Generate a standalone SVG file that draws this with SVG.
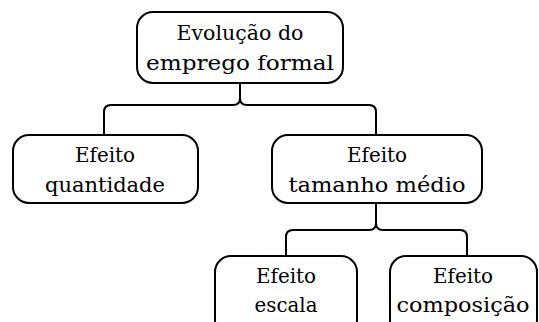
<svg xmlns="http://www.w3.org/2000/svg" width="539" height="322" viewBox="0 0 539 322">
<style>
.box{fill:#fff;stroke:#000;stroke-width:2}
.t{font-family:"DejaVu Serif","Liberation Serif",serif;font-size:21px;fill:#000;text-anchor:middle}
.c{fill:none;stroke:#000;stroke-width:2}
</style>
<rect width="539" height="322" fill="#fff"/>
<g id="connectors">
<path class="c" d="M104,135 V112 Q104,105 111,105 H233 Q240,105 240,98 V83 M240,98 Q240,105 247,105 H369 Q376,105 376,112 V135"/>
<path class="c" d="M286,256 V237 Q286,230 293,230 H369 Q376,230 376,223 V203 M376,223 Q376,230 383,230 H460 Q467,230 467,237 V256"/>
</g>
<g id="n-root">
<rect class="box" x="137" y="12" width="206" height="71" rx="16"/>
<text class="t" x="240" y="40" textLength="127" lengthAdjust="spacingAndGlyphs">Evolução do</text>
<text class="t" x="240" y="70" textLength="188" lengthAdjust="spacingAndGlyphs">emprego formal</text>
</g>
<g id="n-quant">
<rect class="box" x="13" y="135" width="185" height="68" rx="16"/>
<text class="t" x="105" y="162" textLength="60" lengthAdjust="spacingAndGlyphs">Efeito</text>
<text class="t" x="105" y="192" textLength="120" lengthAdjust="spacingAndGlyphs">quantidade</text>
</g>
<g id="n-tam">
<rect class="box" x="272" y="135" width="210" height="68" rx="16"/>
<text class="t" x="377" y="162" textLength="60" lengthAdjust="spacingAndGlyphs">Efeito</text>
<text class="t" x="377" y="192" textLength="177" lengthAdjust="spacingAndGlyphs">tamanho médio</text>
</g>
<g id="n-escala">
<rect class="box" x="215" y="256" width="142" height="80" rx="16"/>
<text class="t" x="286" y="283" textLength="60" lengthAdjust="spacingAndGlyphs">Efeito</text>
<text class="t" x="286" y="312" textLength="63" lengthAdjust="spacingAndGlyphs">escala</text>
</g>
<g id="n-comp">
<rect class="box" x="390" y="256" width="147" height="80" rx="16"/>
<text class="t" x="463" y="283" textLength="60" lengthAdjust="spacingAndGlyphs">Efeito</text>
<text class="t" x="463" y="312" textLength="133" lengthAdjust="spacingAndGlyphs">composição</text>
</g>
</svg>
